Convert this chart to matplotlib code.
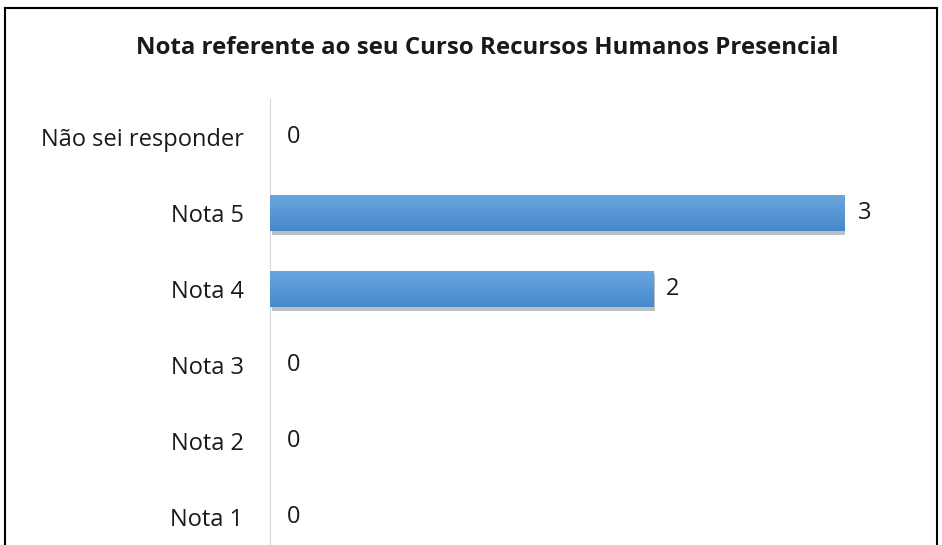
import matplotlib
matplotlib.use("Agg")
import matplotlib.pyplot as plt
import matplotlib.patheffects as pe
import numpy as np

plt.rcParams['font.family'] = ['Open Sans', 'DejaVu Sans']

categories = ["Não sei responder", "Nota 5", "Nota 4", "Nota 3", "Nota 2", "Nota 1"]
values = [0, 3, 2, 0, 0, 0]
title = "Nota referente ao seu Curso Recursos Humanos Presencial"

W, H = 942, 545
fig = plt.figure(figsize=(W / 100, H / 100), dpi=100)

# frame round the chart (bottom is cut off in the screenshot)
fig.add_artist(plt.Line2D([5 / W, 5 / W], [0, 1 - 8 / H], color="black", lw=1.5))
fig.add_artist(plt.Line2D([937 / W, 937 / W], [0, 1 - 8 / H], color="black", lw=1.5))
fig.add_artist(plt.Line2D([5 / W, 937 / W], [1 - 8 / H, 1 - 8 / H], color="black", lw=1.5))

fig.text(487 / W, 1 - 48 / H, title, ha="center", va="center",
         fontsize=17.3, fontweight="bold", color="#1a1a1a")

ax = fig.add_axes([270 / W, 1 - 555 / H, (845 - 270) / W, (555 - 99) / H])
y = np.arange(len(categories))
bars = ax.barh(y, values, height=0.48, color="#5B9BD5",
               path_effects=[pe.SimplePatchShadow(offset=(1.5, -2.5), alpha=0.3), pe.Normal()])

# vertical gradient inside each bar
grad = np.linspace(0, 1, 64).reshape(-1, 1)
cmap = matplotlib.colors.LinearSegmentedColormap.from_list("g", ["#6CA6DF", "#4689CB"])
for b in bars:
    if b.get_width() <= 0:
        continue
    x0, y0 = b.get_x(), b.get_y()
    im = ax.imshow(grad, cmap=cmap, aspect="auto", zorder=3,
                   extent=(x0, x0 + b.get_width(), y0 + b.get_height(), y0))
    im.set_clip_path(b)

for yi, v in zip(y, values):
    ax.annotate(str(v), (v, yi), xytext=(13 if v else 17, 0), textcoords="offset pixels",
                va="center", ha="left", fontsize=17, color="#1a1a1a", annotation_clip=False)

ax.set_xlim(0, 3)
ax.set_ylim(len(categories) - 0.5, -0.5)
ax.set_yticks(y)
ax.set_yticklabels(categories, fontsize=17, color="#1a1a1a")
ax.tick_params(axis="y", length=0, pad=19)
ax.set_xticks([])
for s in ["top", "right", "bottom"]:
    ax.spines[s].set_visible(False)
ax.spines["left"].set_color("#D9D9D9")
ax.set_facecolor("none")

fig.savefig("out.png", dpi=100)
